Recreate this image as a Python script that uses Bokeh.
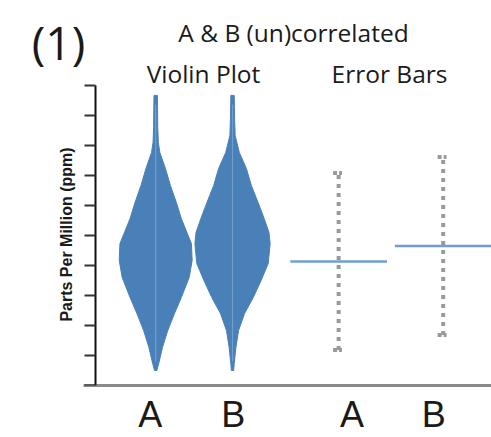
import math
from bokeh.plotting import figure
from bokeh.models import Range1d, FixedTicker, CustomLabelingPolicy
from bokeh.core.properties import value
from bokeh.embed import file_html
from bokeh.resources import INLINE

# ---------------- data ----------------
group_labels = ["A", "B", "A", "B"]

# violin profiles: ppm level -> relative density (half width, 1.0 = widest)
violin_a_ppm = [0.5, 0.73, 1.27, 1.83, 2.4, 2.93, 3.6, 4.17, 4.73, 5.07, 5.57, 6.1, 6.67, 7.23, 7.77, 8.1, 8.6, 9.2, 9.67]
violin_a_dens = [0.03, 0.08, 0.18, 0.32, 0.50, 0.68, 0.89, 0.97, 0.95, 0.84, 0.68, 0.55, 0.39, 0.26, 0.11, 0.07, 0.055, 0.05, 0.045]

violin_b_ppm = [0.5, 0.73, 1.27, 1.83, 2.4, 2.93, 3.5, 4.07, 4.73, 5.1, 5.57, 6.1, 6.67, 7.23, 7.77, 8.33, 8.9, 9.3, 9.67]
violin_b_dens = [0.03, 0.045, 0.09, 0.16, 0.32, 0.55, 0.76, 0.95, 1.0, 0.97, 0.84, 0.68, 0.50, 0.37, 0.18, 0.07, 0.055, 0.05, 0.045]

# error bars: mean and half-range (ppm)
err_mean = [4.13, 4.65]
err_half = [2.95, 2.97]

y_ticks = [0, 1, 2, 3, 4, 5, 6, 7, 8, 9, 10]

panel_tag = "(1)"
main_title = "A & B (un)correlated"
sub_titles = ["Violin Plot", "Error Bars"]
y_title = "Parts Per Million (ppm)"

# ---------------- layout (pixel geometry of the page) ----------------
W, H = 491, 437
FRAME_L = 25          # left edge of plotting frame
AXIS_PX = 95          # where the y axis stands
BOTTOM = 52           # space below the x axis
X_UNIT_PX = 79.2      # pixels per x unit
Y_UNIT_PX = 30.0      # pixels per ppm
BASE_PX = H - BOTTOM  # pixel row of 0 ppm


def dx(px):
    return (px - AXIS_PX) / X_UNIT_PX


def dy(py):
    return (BASE_PX - py) / Y_UNIT_PX


violin_x = [0.76, 1.73]
err_x = [3.07, 4.39]
label_x = [0.69, 1.74, 3.24, 4.27]
violin_max_half = 0.475
err_line_half = 0.61

VIOLIN = "#4a80b8"
VIOLIN_MID = "#7aa5d2"
MEAN_LINE = "#6f9fd2"
DOTS = "#9a9a9a"
TEXT = "#1a1a1a"
FONT = "Open Sans"

p = figure(width=W, height=H, output_backend="svg", toolbar_location=None,
           title_location=None,
           x_range=Range1d(dx(FRAME_L), dx(W)), y_range=Range1d(0, dy(0)),
           min_border_left=FRAME_L, min_border_right=0, min_border_top=0,
           min_border_bottom=BOTTOM)
p.outline_line_color = None
p.xgrid.visible = False
p.ygrid.visible = False

# y axis, standing inside the frame at x = 0
yax = p.yaxis[0]
yax.fixed_location = 0
yax.bounds = (0, 10)
yax.ticker = FixedTicker(ticks=y_ticks)
yax.major_label_policy = CustomLabelingPolicy(code="return new indices.constructor(indices.size)")
yax.major_label_standoff = 0
yax.axis_line_color = "#111111"
yax.axis_line_width = 2
yax.major_tick_line_color = "#333333"
yax.major_tick_line_width = 2
yax.major_tick_out = 11
yax.major_tick_in = 0
yax.minor_tick_line_color = None

# x axis
xax = p.xaxis[0]
xax.bounds = (dx(83), dx(W))
xax.ticker = FixedTicker(ticks=label_x)
xax.major_label_overrides = {t: s for t, s in zip(label_x, group_labels)}
xax.major_label_text_font = "Liberation Sans"
xax.major_label_text_font_size = "36px"
xax.major_label_text_color = TEXT
xax.major_label_standoff = 8
xax.axis_line_color = "#8a8a8a"
xax.axis_line_width = 3
xax.major_tick_line_color = None
xax.major_tick_out = 0
xax.minor_tick_line_color = None

# violins
for cx, ys, ds in [(violin_x[0], violin_a_ppm, violin_a_dens),
                   (violin_x[1], violin_b_ppm, violin_b_dens)]:
    right = [cx + d * violin_max_half for d in ds]
    left = [cx - d * violin_max_half for d in ds]
    p.patch(right + left[::-1], ys + ys[::-1], fill_color=VIOLIN, line_color=VIOLIN, line_width=1)
    p.segment(x0=[cx], y0=[ys[0] + 0.3], x1=[cx], y1=[ys[-1] - 0.3],
              line_color=VIOLIN_MID, line_width=1.2, line_alpha=0.8)

# error bars
for cx, m, h in zip(err_x, err_mean, err_half):
    p.segment(x0=[cx], y0=[m - h], x1=[cx], y1=[m + h],
              line_color=DOTS, line_width=4, line_dash="4 5")
    cap = 0.07
    p.segment(x0=[cx - cap, cx - cap], y0=[m - h, m + h],
              x1=[cx + cap * 0.6, cx + cap * 0.6], y1=[m - h, m + h],
              line_color=DOTS, line_width=4, line_dash="4 2")
    p.segment(x0=[cx - err_line_half], y0=[m], x1=[cx + err_line_half], y1=[m],
              line_color=MEAN_LINE, line_width=2.5)

# heading texts and y title (inside the frame, above / left of the axes)
p.text(x=[dx(58)], y=[dy(41)], text=[panel_tag], text_font=value(FONT), text_font_size="46px",
       text_color=TEXT, text_align="center", text_baseline="alphabetic")
p.text(x=[dx(293)], y=[dy(32)], text=[main_title], text_font=value(FONT), text_font_size="24.5px",
       text_color=TEXT, text_align="center", text_baseline="alphabetic")
p.text(x=[dx(203), dx(389)], y=[dy(73), dy(73)], text=sub_titles, text_font=value(FONT),
       text_font_size="24.5px", text_color=TEXT, text_align="center", text_baseline="alphabetic")
p.text(x=[dx(65.5)], y=[dy(234)], text=[y_title], text_font=value("Liberation Sans"),
       text_font_style="bold", text_font_size="16px", text_color=TEXT,
       text_align="center", text_baseline="middle", angle=math.pi / 2)

open("out.html", "w").write(file_html(p, INLINE))
